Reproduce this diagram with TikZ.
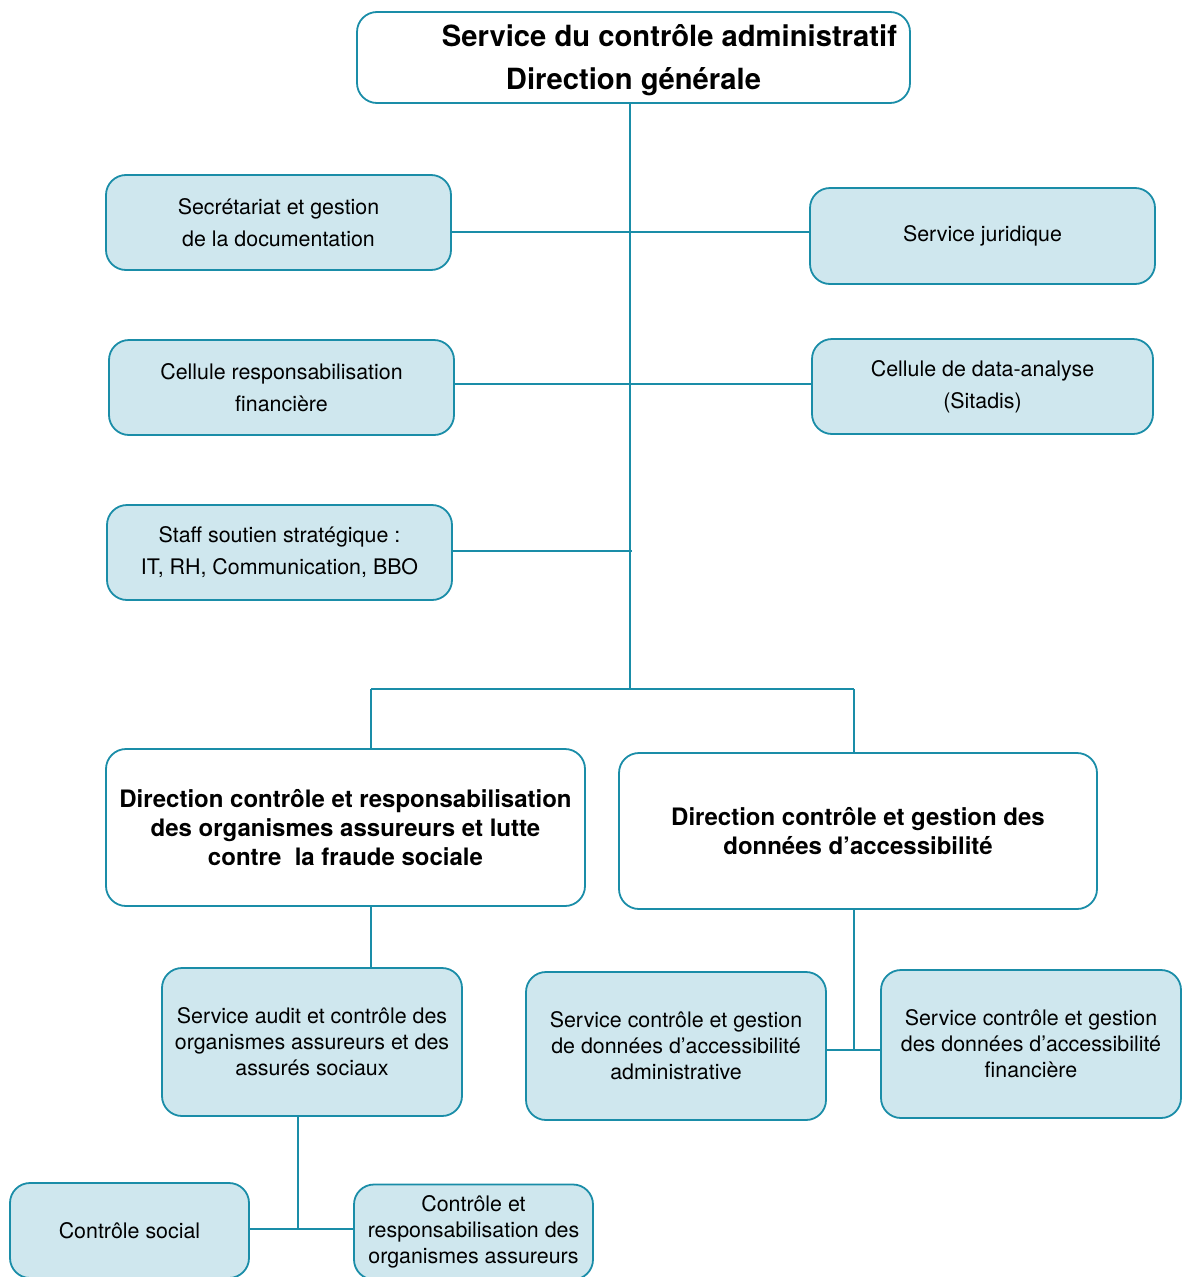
\documentclass[tikz,border=0pt]{standalone}
\usepackage{fontspec}
\setmainfont{TeX Gyre Heros}
\definecolor{orgline}{HTML}{1A8DA8}
\definecolor{orgfill}{HTML}{CFE7EE}

\begin{document}
\begin{tikzpicture}[x=1pt,y=-1pt,
  unit/.style={draw=orgline, line width=1.8pt, fill=orgfill, rounded corners=20pt,
    align=center, inner sep=0pt, font=\fontsize{21.4}{32}\selectfont},
  subunit/.style={unit, font=\fontsize{21.4}{26}\selectfont},
  headbox/.style={unit, fill=white, font=\bfseries\fontsize{24}{29}\selectfont},
  link/.style={draw=orgline, line width=2pt}]
  \useasboundingbox (0,0) rectangle (1184,1277);

  % direction generale
  \node[headbox, minimum width=553pt, minimum height=91pt, text depth=0pt,
    font=\bfseries\fontsize{29.2}{43}\selectfont] (dg) at (633.5,57.5)
    {\hspace*{72pt}Service du contrôle administratif\\Direction générale};

  % staff
  \node[unit, minimum width=345pt, minimum height=95pt] (secr) at (278.5,222.5)
    {Secrétariat et gestion\\de la documentation};
  \node[unit, minimum width=345pt, minimum height=96pt] (jur) at (982.5,236)
    {Service juridique};
  \node[unit, minimum width=345pt, minimum height=95pt] (resp) at (281.5,387.5)
    {Cellule responsabilisation\\financière};
  \node[unit, minimum width=341pt, minimum height=95pt] (data) at (982.5,386.5)
    {Cellule de data-analyse\\(Sitadis)};
  \node[unit, minimum width=345pt, minimum height=95pt] (staff) at (279.5,552.5)
    {Staff soutien stratégique :\\IT, RH, Communication, BBO};

  % directions
  \node[headbox, minimum width=479pt, minimum height=157pt] (dir1) at (345.5,827.5)
    {Direction contrôle et responsabilisation\\des organismes assureurs et lutte\\contre \ la fraude sociale};
  \node[headbox, minimum width=478pt, minimum height=156pt] (dir2) at (858,831)
    {Direction contrôle et gestion des\\données d’accessibilité};

  % services
  \node[subunit, minimum width=300pt, minimum height=148pt] (audit) at (312,1042)
    {Service audit et contrôle des\\organismes assureurs et des\\assurés sociaux};
  \node[subunit, minimum width=300pt, minimum height=148pt] (sadm) at (676,1046)
    {Service contrôle et gestion\\de données d’accessibilité\\administrative};
  \node[subunit, minimum width=300pt, minimum height=148pt] (sfin) at (1031,1044)
    {Service contrôle et gestion\\des données d’accessibilité\\financière};
  \node[subunit, minimum width=239pt, minimum height=95pt] (csoc) at (129.5,1230.5)
    {Contrôle social};
  \node[subunit, minimum width=239pt, minimum height=95pt] (cresp) at (473.5,1232)
    {Contrôle et\\responsabilisation des\\organismes assureurs};

  % connectors
  \coordinate (split) at (630,689);
  \coordinate (left) at (371,689);
  \coordinate (right) at (854,689);
  \coordinate (low) at (298,1229);

  \draw[link] (dg.south -| split) -- (split);
  \draw[link] ([yshift=4pt]jur.west -| secr.east) -- ([yshift=4pt]jur.west);
  \draw[link] ([yshift=3.5pt]resp.east) -- ([yshift=3.5pt]resp.east -| data.west);
  \draw[link] ([yshift=1.5pt]staff.east) -- ([xshift=2pt,yshift=1.5pt]staff.east -| split);
  \draw[link] (left) -- (right);
  \draw[link] (left) -- (left |- dir1.north);
  \draw[link] (right) -- (right |- dir2.north);
  \draw[link] (dir1.south -| left) -- (audit.north -| left);
  \draw[link] (dir2.south -| right) -- ([yshift=-4pt]right |- sadm.east);
  \draw[link] ([yshift=-4pt]sadm.east) -- ([yshift=-4pt]sadm.east -| sfin.west);
  \draw[link] (audit.south -| low) -- (low);
  \draw[link] (csoc.east |- low) -- (low -| cresp.west);
\end{tikzpicture}
\end{document}
